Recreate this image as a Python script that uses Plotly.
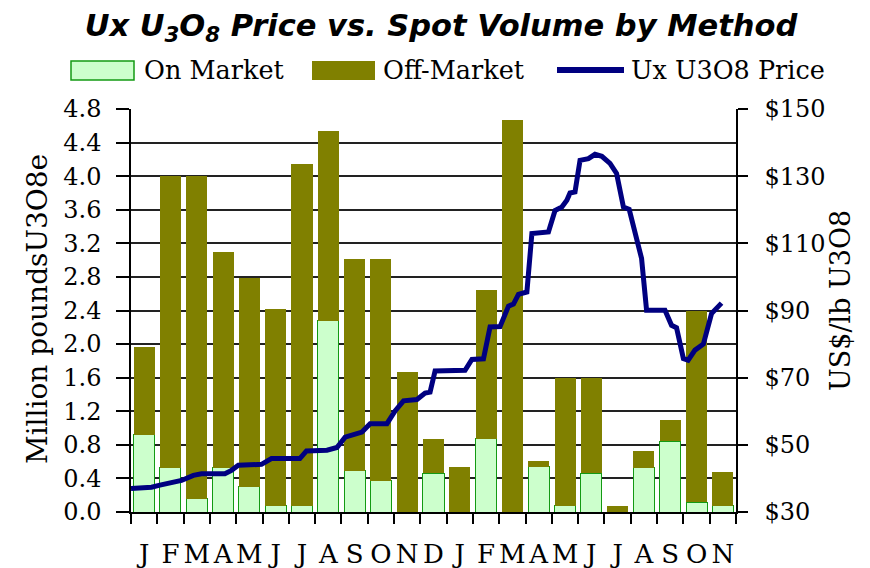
import plotly.graph_objects as go

# ---------------- data ----------------
months = ["Jan-06", "Feb-06", "Mar-06", "Apr-06", "May-06", "Jun-06", "Jul-06", "Aug-06",
          "Sep-06", "Oct-06", "Nov-06", "Dec-06", "Jan-07", "Feb-07", "Mar-07", "Apr-07",
          "May-07", "Jun-07", "Jul-07", "Aug-07", "Sep-07", "Oct-07", "Nov-07"]
month_letters = ["J", "F", "M", "A", "M", "J", "J", "A", "S", "O", "N", "D",
                 "J", "F", "M", "A", "M", "J", "J", "A", "S", "O", "N"]
on_market = [0.92, 0.53, 0.16, 0.53, 0.30, 0.075, 0.075, 2.28, 0.49, 0.37, 0.0, 0.46,
             0.0, 0.87, 0.0, 0.54, 0.075, 0.46, 0.0, 0.53, 0.84, 0.115, 0.075]
off_market = [1.04, 3.47, 3.84, 2.57, 2.49, 2.345, 4.065, 2.26, 2.52, 2.64, 1.67, 0.41,
              0.54, 1.78, 4.67, 0.07, 1.525, 1.14, 0.075, 0.20, 0.26, 2.285, 0.405]
# weekly Ux U3O8 price, position in month-index units (0 = Jan-06 centre)
price_pos = [-0.5, 0.28, 0.60, 1.04, 1.42, 1.87, 2.18, 3.07, 3.32, 3.58, 4.46, 4.84, 5.92, 6.17,
             6.95, 7.33, 7.64, 8.28, 8.59, 9.23, 9.54, 9.86, 10.37, 10.68, 10.87, 11.06, 12.20,
             12.46, 12.90, 13.15, 13.53, 13.85, 14.04, 14.23, 14.55, 14.74, 15.37, 15.62, 15.88,
             16.07, 16.19, 16.38, 16.57, 16.89, 17.14, 17.40, 17.71, 17.96, 18.22, 18.44, 18.66,
             18.91, 19.10, 19.80, 20.05, 20.24, 20.50, 20.68, 20.94, 21.26, 21.57, 21.95]
price = [37.0, 37.4, 38.0, 38.6, 39.4, 40.9, 41.4, 41.4, 42.4, 43.9, 44.2, 45.9, 45.9, 48.2,
         48.4, 49.2, 52.3, 53.8, 56.3, 56.3, 60.1, 63.1, 63.5, 65.4, 65.7, 72.0, 72.2,
         75.4, 75.6, 85.1, 85.2, 91.3, 91.9, 94.8, 95.5, 112.9, 113.4, 119.8, 120.8,
         122.8, 125.0, 125.3, 134.7, 135.2, 136.5, 135.9, 133.8, 130.8, 120.8, 120.1, 113.9,
         105.5, 90.1, 90.1, 85.6, 84.9, 75.7, 75.2, 78.2, 80.0, 89.1, 92.2]

# ---------------- styling ----------------
OFF = 8                      # page body margin in the rendered html
W, H = 870 - OFF, 568 - OFF  # figure size so it fits the window
L, R, T, B = 131 - OFF, 134, 109 - OFF, 56
PW, PH = W - L - R, H - T - B
SERIF = "DejaVu Serif"
GREEN_FILL = "#CCFFCC"
GREEN_EDGE = "#139A13"
OLIVE = "#808000"
NAVY = "#000080"


def xp(px):
    """window pixel x -> paper coordinate"""
    return (px - OFF - L) / PW


def yp(py):
    """window pixel y -> paper coordinate"""
    return (H - B - (py - OFF)) / PH


idx = list(range(len(months)))

fig = go.Figure()
fig.add_trace(go.Bar(x=idx, y=on_market, name="On Market", width=0.8,
                     marker=dict(color=GREEN_FILL, line=dict(color=GREEN_EDGE, width=1)),
                     hovertext=months))
fig.add_trace(go.Bar(x=idx, y=off_market, name="Off-Market", width=0.8,
                     marker=dict(color=OLIVE, line=dict(width=0)), hovertext=months))
fig.add_trace(go.Scatter(x=price_pos, y=price, name="Ux U3O8 Price", mode="lines",
                         line=dict(color=NAVY, width=5), yaxis="y2"))

fig.update_layout(
    width=W, height=H,
    margin=dict(l=L, r=R, t=T, b=B, autoexpand=False),
    barmode="stack",
    bargap=0.2,
    showlegend=False,
    plot_bgcolor="white",
    paper_bgcolor="white",
    title=dict(text="Ux U<sub>3</sub>O<sub>8</sub> Price vs. Spot Volume by Method",
               x=(441 - OFF) / W, xanchor="center", y=1 - (25 - OFF) / H, yanchor="middle",
               font=dict(family="DejaVu Sans", size=30.5, color="black",
                         weight="bold", style="italic")),
    xaxis=dict(range=[-0.5, 22.5], tickmode="array", tickvals=idx, ticktext=month_letters,
               ticks="", ticklabelstandoff=18, showgrid=False, zeroline=False,
               showline=True, linecolor="black", linewidth=1.5,
               tickfont=dict(family=SERIF, size=26, color="black"),
               minor=dict(tickmode="array", tickvals=[i - 0.5 for i in range(24)],
                          ticks="outside", ticklen=10, tickwidth=1.5, tickcolor="black",
                          showgrid=False)),
    yaxis=dict(range=[0, 4.8], tickmode="linear", tick0=0, dtick=0.4, tickformat=".1f",
               ticks="outside", ticklen=13, tickwidth=1.5, tickcolor="black",
               ticklabelstandoff=10,
               showgrid=True, gridcolor="#222222", gridwidth=1.6, zeroline=False,
               showline=True, linecolor="black", linewidth=1.5,
               tickfont=dict(family=SERIF, size=24, color="black")),
    yaxis2=dict(range=[30, 150], tickmode="linear", tick0=30, dtick=20, tickprefix="$",
                overlaying="y", side="right", ticks="outside", ticklen=10, tickwidth=1.5,
                tickcolor="black", ticklabelstandoff=12, showgrid=False, zeroline=False,
                showline=True, linecolor="black", linewidth=1.5,
                tickfont=dict(family=SERIF, size=24, color="black")),
)

# axis titles
fig.add_annotation(text="Million poundsU3O8e", textangle=-90, xref="paper", yref="paper",
                   x=xp(37), y=yp(309), showarrow=False, xanchor="center", yanchor="middle",
                   font=dict(family=SERIF, size=28, color="black"))
fig.add_annotation(text="US$/lb U3O8", textangle=-90, xref="paper", yref="paper",
                   x=xp(840), y=yp(301), showarrow=False, xanchor="center", yanchor="middle",
                   font=dict(family=SERIF, size=27, color="black"))

# legend (drawn manually to match the wide swatches)
fig.add_shape(type="rect", xref="paper", yref="paper", x0=xp(71), x1=xp(134), y0=yp(80), y1=yp(61),
              fillcolor=GREEN_FILL, line=dict(color=GREEN_EDGE, width=1.5))
fig.add_shape(type="rect", xref="paper", yref="paper", x0=xp(312), x1=xp(375), y0=yp(80), y1=yp(61),
              fillcolor=OLIVE, line=dict(width=0))
fig.add_shape(type="line", xref="paper", yref="paper", x0=xp(557), x1=xp(624), y0=yp(70), y1=yp(70),
              line=dict(color=NAVY, width=6))
for txt, px in [("On Market", 142), ("Off-Market", 381), ("Ux U3O8 Price", 629)]:
    fig.add_annotation(text=txt, xref="paper", yref="paper", x=xp(px), y=yp(70),
                       xanchor="left", yanchor="middle", showarrow=False,
                       font=dict(family=SERIF, size=25.5, color="black"))

fig.write_html("out.html")
